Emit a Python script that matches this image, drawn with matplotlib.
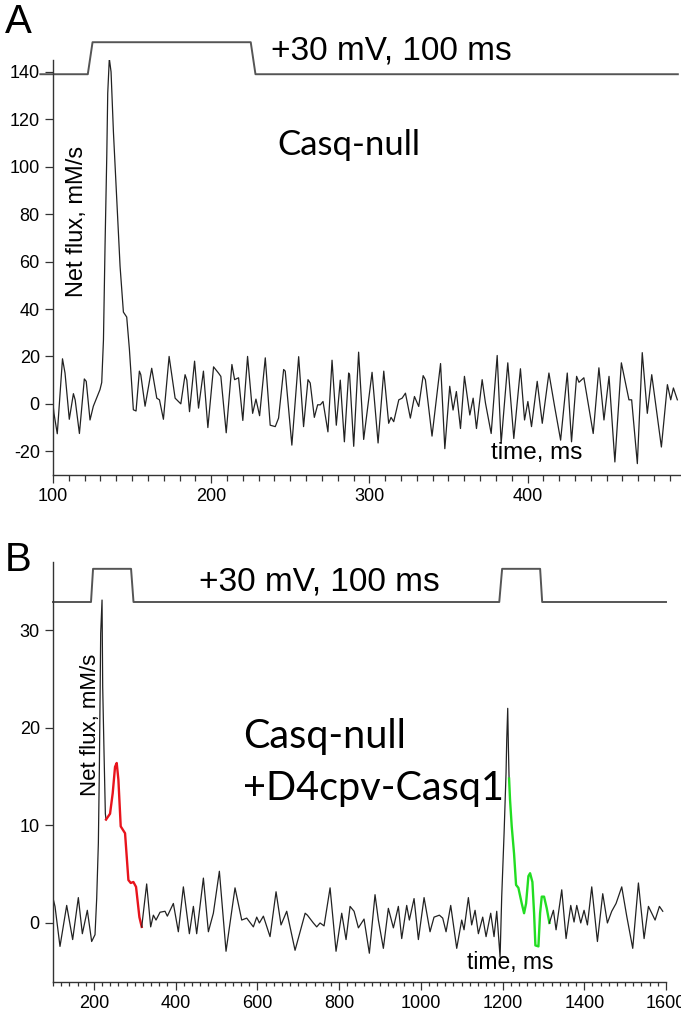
import numpy as np
import matplotlib.pyplot as plt
from matplotlib.ticker import MultipleLocator

plt.rcParams['axes.unicode_minus'] = False

# ---- panel A : Casq-null, net flux trace (ms, mM/s)
a_t = [100, 100.6, 102.7, 106, 107.6, 110.3, 112.9, 114, 116.7, 119.8, 121, 123.4, 125.5, 129.7,
       130.8, 131.9, 132.9, 134, 134.6, 135.6, 136.7, 138.2, 140.3, 142.4, 144.5, 146.6, 148.3,
       149.8, 150.8, 152.5, 154.6, 155.5, 158.2, 162.4, 165.6, 167.3, 169.8, 173.4, 177.2,
       180.8, 183.5, 184.6, 186.3, 189.5, 192, 195.1, 197.9, 201.5, 204.6, 206.1, 209.5, 213.1,
       214.8, 217.3, 220, 223, 226.2, 228.3, 230.6, 234.2, 237.3, 240.5, 242.6, 245.8, 246.8,
       251, 255.3, 258.4, 261.2, 262.6, 265.2, 267.3, 269, 270.7, 273.8, 276.4, 279.1, 281.6,
       284.2, 286.9, 287.5, 290.1, 293.2, 296.4, 301.7, 305.5, 309.1, 312.2, 313.7, 315.4,
       318.6, 320.7, 322.8, 325.9, 328.5, 331.2, 334, 335.4, 339.6, 345, 347.7, 350.8, 352.9,
       355, 357.6, 360.1, 363.5, 365.6, 367.7, 371.3, 373.4, 377, 380.8, 383.3, 387.5, 391.3,
       395.5, 398.1, 400.2, 402.5, 406.1, 409.3, 413.5, 417.1, 420.9, 425.1, 427.8, 431, 432.5,
       435.6, 441.5, 445.1, 448.3, 451.5, 455.2, 459.3, 464.1, 465.8, 469.4, 472.5, 475.7,
       478.5, 484.6, 488.4, 490.5, 492.2, 494.7]
a_flux = [0, -4, -12.6, 19, 13, -6.5, 4.3, 1.7, -12.5, 10.5, 9.5, -6.8, -1, 6,
          9, 27, 66.8, 104.8, 131, 145.6, 140, 114.6, 86.5, 58, 38.7, 36.6, 23,
          7.7, -2.5, -3, 13.8, 12.3, -1, 15, 2.4, 1.7, -6.5, 20, 2.4,
          0, 12.3, 10, -3.3, 18, -1.8, 13.8, -10, 15.6, 13, 11.6, -12.2, 16.6,
          10.2, 11, -7, 20, -4, 2, -5, 19.4, -9, -9.6, -6, 14.5, 13.8,
          -17.4, 19.9, -9.6, 10.2, 8.8, -5.7, -0.4, -0.4, 1, -11.8, 18.4, -9, 10,
          -16, 13, 12.3, -17.9, 21.8, -15, 13.3, -16.5, 13.8, -8.2, -5.7, -7.5,
          1.7, 2.4, 4.5, -6, 3.1, -1.1, 11.9, 10.2, -13.6, 17, -18.9, 7.4, -2.6,
          5.2, -10.4, 11.6, -4.7, 2.4, -10.4, 10.2, 0.3, -12.5, 20.4, -16.7, 17.3, -14.6,
          14.8, -6.8, 1, -9.6, 9.5, -8.2, 13, -1.1, -15.3, 13, -16, 11.6, 9.1,
          11, -12.5, 15.2, -6.8, 11.6, -24.5, 17.3, 1.7, 1.7, -25.2, 21.6, -4,
          12.3, -18.2, 8.1, 1.7, 6.7, 1.7]
# voltage protocol trace drawn above panel A (on the flux scale)
a_volt_t = [92, 122, 125, 225, 228, 495]
a_volt = [139, 139, 152.5, 152.5, 139, 139]

# ---- panel B : Casq-null + D4cpv-Casq1
b_t = [100, 100.8, 104.9, 117.1, 133.5, 148.1, 162, 171.8, 184, 194.6, 202.8, 206.9, 211, 213.5,
       216.7, 220, 221.6, 224.9, 228.1, 229.8]
b_flux = [0.5, 2.4, 1.7, -2.4, 1.8, -1.7, 2.6, -1.1, 1.3, -1.9, -1.2, 2.5, 8.2, 16,
          29.7, 33.1, 24.2, 17.4, 11.2, 10.6]
red_t = [229.8, 239.6, 246.1, 251.8, 255.9, 260, 265.7, 276.3, 284.5, 290.2, 296.7, 303.2, 311.4, 317.1]
red_flux = [10.6, 11.2, 13.3, 16, 16.4, 14.7, 9.9, 9.2, 4.4, 4.1, 4.2, 3.7, 0.6, -0.4]
b2_t = [317.1, 329.2, 339, 345.6, 352.1, 361.9, 374.1, 379.8, 394.5, 406.7, 419, 433.7, 443.5,
        451.6, 468, 480.2, 492.4, 507.1, 523.4, 545.4, 561.8, 574, 590.3, 598.5, 605, 614.8,
        631.1, 645.8, 658, 671.9, 692.3, 717, 722.5, 737.1, 745.3, 753.5, 763.3, 778, 792.6,
        806.5, 817.1, 826.9, 836.7, 847.3, 861.1, 874.1, 888, 896.2, 908.4, 920.6, 932.9,
        945.1, 953.3, 965.5, 972, 983.5, 994.1, 1008, 1022.6, 1032.4, 1045.5, 1053.6, 1061.8,
        1073.2, 1087.9, 1100.1, 1105.8, 1116.4, 1124.5, 1132.8, 1140.9, 1151.5, 1159.7,
        1171.1, 1179.2, 1185.8, 1194, 1198, 1203.8, 1208.6, 1210.3, 1212.7, 1214.3, 1216]
b2_flux = [-0.4, 4, -0.4, 0.8, 0.3, 1.1, 1.2, 0.7, 2, -0.9, 3.7, -1.1, 1.7,
           -1.1, 4.6, -0.9, 1, 5.3, -2.9, 3.6, 0.3, 0.5, -0.4, 0.6, 0, 0.7,
           -1.4, 3.2, -0.2, 1.2, -2.8, 1, 0.8, 0, -0.4, 0, -0.3, 3.6, -2.9,
           1, -1.7, 1.7, 1.2, -0.5, 0.4, -3.1, 2.9, 0.3, -2.6, 1.5, -0.5,
           1.7, -1.6, 1.8, 0.3, 2.5, -1.7, 2.6, -0.9, 0.6, 0.8, 0.5, -0.9,
           1.8, -2.6, 0.3, -0.7, 2.6, -0.2, 1.3, -1.1, 0.6, -1.4,
           1, -1.4, 1.2, -3.5, 2.7, 9.2, 15.4, 18.8, 22, 18.1, 14.8]
green_t = [1216, 1218.4, 1222.5, 1228.2, 1233.1, 1238.8, 1247, 1252.7, 1257.6, 1263.3, 1267.4,
           1273.1, 1277.2, 1280.4, 1287.8, 1291.9, 1296, 1301.6, 1308.2, 1314.7]
green_flux = [14.8, 12.6, 9.9, 7.1, 3.9, 3.6, 2, 1, 2, 4.8, 5.1,
              4.2, 1, -2.3, -2.4, 1, 2.7, 2.7, 1.5, 0]
b3_t = [1314.7, 1324.5, 1331, 1344.9, 1355.5, 1366.9, 1375, 1381.6, 1391.4, 1399.5, 1407.7,
        1418.3, 1432.2, 1445.2, 1456.6, 1467.2, 1477.8, 1491.7, 1503.9, 1518.6, 1532.5,
        1546.4, 1557, 1573.3, 1583.9, 1592.1]
b3_flux = [0, 1.3, -0.7, 3.4, -1.6, 1.8, 0.1, 1.8, 0, 1.3, -0.2,
           3.7, -1.9, 3, 0, 1.2, 2, 3.7, 0.7, -2.6, 4.1,
           -1.6, 1.7, 0.3, 1.7, 1.2]
b_volt_t = [100, 193, 198, 291, 297, 1192, 1199, 1292, 1297, 1600]
b_volt = [32.9, 32.9, 36.3, 36.3, 32.9, 32.9, 36.3, 36.3, 32.9, 32.9]

W, H = 681, 1017
fig = plt.figure(figsize=(W / 100, H / 100), dpi=100)
tick_font = ['Liberation Sans', 'DejaVu Sans']
label_font = ['Lato', 'DejaVu Sans']
trace_col = '#222222'
volt_col = '#555555'


def style_axes(ax, size):
    for s in ['top', 'right']:
        ax.spines[s].set_visible(False)
    for s in ['left', 'bottom']:
        ax.spines[s].set_color('#333333')
        ax.spines[s].set_linewidth(1.0)
    ax.tick_params(which='both', direction='out', color='#333333', width=0.9, labelsize=size)
    ax.tick_params(which='major', length=6)
    ax.tick_params(which='minor', length=4)
    for lab in ax.get_xticklabels() + ax.get_yticklabels():
        lab.set_family(tick_font)


# ---------------- panel A
ax = fig.add_axes([53 / W, (H - 475) / H, 628 / W, 415 / H])
ax.plot(a_t, a_flux, color=trace_col, lw=0.9)
ax.plot(a_volt_t, a_volt, color=volt_col, lw=1.4, clip_on=False)
ax.set_xlim(100, 497)
ax.set_ylim(-30, 145)
ax.xaxis.set_major_locator(MultipleLocator(100))
ax.xaxis.set_minor_locator(MultipleLocator(10))
ax.yaxis.set_major_locator(MultipleLocator(20))
style_axes(ax, 13)
ax.text(314, 149, '+30 mV, 100 ms', fontsize=24, family=tick_font, ha='center', va='center')
ax.text(287, 109, 'Casq-null', fontsize=25, family=label_font, ha='center', va='center')
ax.text(115, 77, 'Net flux, mM/s', fontsize=17, family=tick_font, rotation=90, ha='center', va='center')
ax.text(376.6, -20.7, 'time, ms', fontsize=17.5, family=tick_font, ha='left', va='center')

# ---------------- panel B
ax = fig.add_axes([53 / W, (H - 982) / H, 613 / W, 420 / H])
ax.plot(b_t, b_flux, color=trace_col, lw=0.9)
ax.plot(red_t, red_flux, color='#e8141c', lw=1.7)
ax.plot(b2_t, b2_flux, color=trace_col, lw=0.9)
ax.plot(green_t, green_flux, color='#22dd22', lw=1.7)
ax.plot(b3_t, b3_flux, color=trace_col, lw=0.9)
ax.plot(b_volt_t, b_volt, color=volt_col, lw=1.4, clip_on=False)
ax.set_xlim(100, 1600)
ax.set_ylim(-6.05, 37.0)
ax.xaxis.set_major_locator(MultipleLocator(200))
ax.xaxis.set_minor_locator(MultipleLocator(20))
ax.yaxis.set_major_locator(MultipleLocator(10))
style_axes(ax, 13)
ax.tick_params(which='minor', length=3)
ax.text(751, 34.9, '+30 mV, 100 ms', fontsize=24, family=tick_font, ha='center', va='center')
ax.text(565, 19.1, 'Casq-null', fontsize=28.5, family=label_font, ha='left', va='center')
ax.text(565, 13.8, '+D4cpv-Casq1', fontsize=28.5, family=label_font, ha='left', va='center')
ax.text(190.6, 20.3, 'Net flux, mM/s', fontsize=16, family=tick_font, rotation=90, ha='center', va='center')
ax.text(1113, -4, 'time, ms', fontsize=16.5, family=tick_font, ha='left', va='center')

fig.text(5 / W, 1 - 22 / H, 'A', fontsize=29, family=tick_font, ha='left', va='center')
fig.text(5 / W, 1 - 560 / H, 'B', fontsize=29, family=tick_font, ha='left', va='center')

fig.savefig('out.png', dpi=100)
